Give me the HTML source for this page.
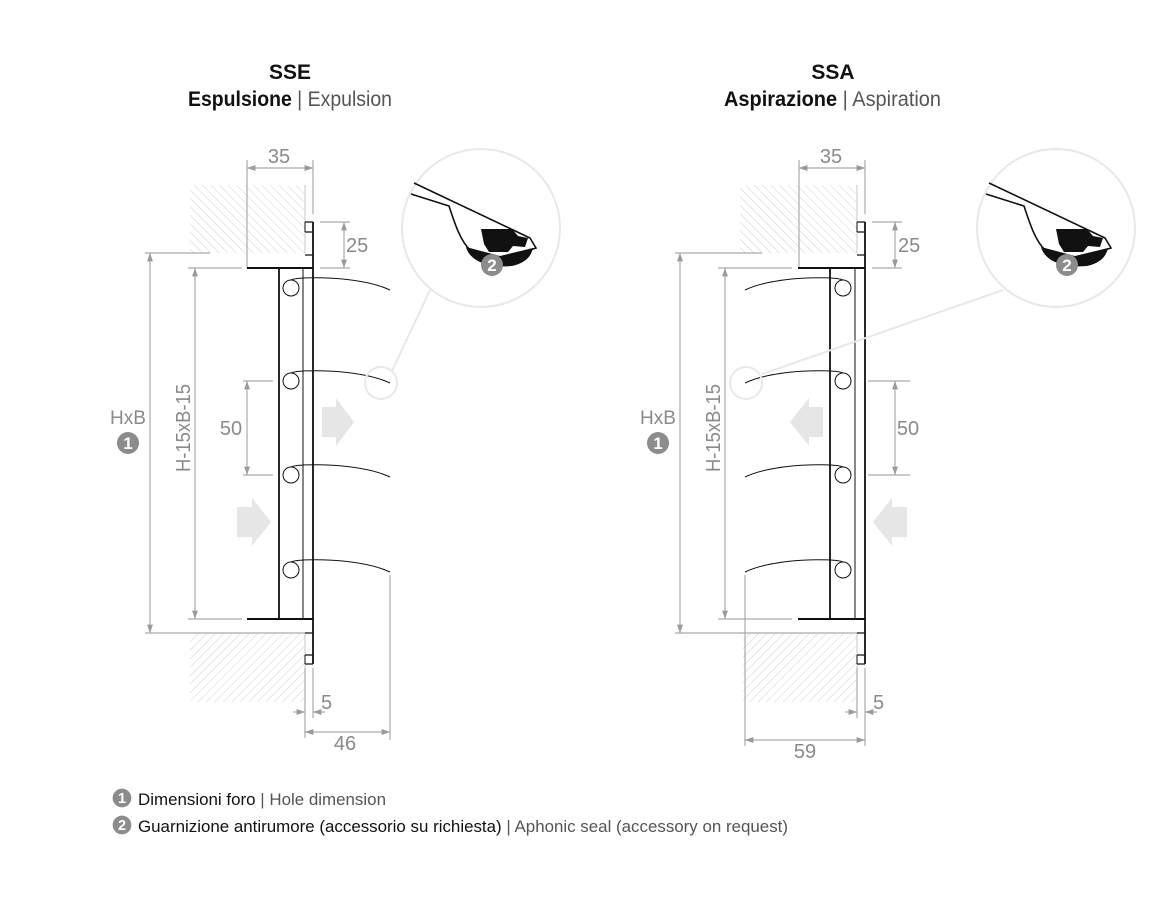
<!DOCTYPE html>
<html><head><meta charset="utf-8"><style>
html,body{margin:0;padding:0;background:#fff;}
svg{display:block;}
text{font-family:"Liberation Sans Narrow","Liberation Sans",sans-serif;}
</style></head><body>
<svg width="1157" height="902" viewBox="0 0 1157 902" xmlns="http://www.w3.org/2000/svg">
<defs>
<pattern id="hA" width="6" height="6" patternUnits="userSpaceOnUse" patternTransform="rotate(-45)"><line x1="0" y1="0" x2="0" y2="6" stroke="#cfcfcf" stroke-width="1"/></pattern>
<pattern id="hB" width="6" height="6" patternUnits="userSpaceOnUse" patternTransform="rotate(45)"><line x1="0" y1="0" x2="0" y2="6" stroke="#cfcfcf" stroke-width="1"/></pattern>
<marker id="ar" viewBox="0 0 10 10" refX="10" refY="5" markerWidth="7" markerHeight="7" orient="auto-start-reverse"><path d="M0,1.5 L10,5 L0,8.5 z" fill="#9a9a9a"/></marker>
<g id="badge1"><circle r="11" fill="#8c8c8c"/><text y="6" text-anchor="middle" font-size="17" font-weight="bold" fill="#fff">1</text></g>
<g id="badge2"><circle r="11" fill="#8c8c8c"/><text y="6" text-anchor="middle" font-size="17" font-weight="bold" fill="#fff">2</text></g>
</defs>

<!-- Titles -->
<text x="290" y="79" text-anchor="middle" font-size="21" font-weight="bold" fill="#111">SSE</text>
<text x="188" y="106" font-size="21" fill="#111" textLength="204" lengthAdjust="spacingAndGlyphs"><tspan font-weight="bold">Espulsione</tspan><tspan fill="#555"> | Expulsion</tspan></text>
<text x="833" y="79" text-anchor="middle" font-size="21" font-weight="bold" fill="#111">SSA</text>
<text x="724" y="106" font-size="21" fill="#111" textLength="217" lengthAdjust="spacingAndGlyphs"><tspan font-weight="bold">Aspirazione</tspan><tspan fill="#555"> | Aspiration</tspan></text>

<!-- ================= LEFT ================= -->
<g>
<rect x="190" y="185" width="115" height="68" fill="url(#hA)"/>
<line x1="305" y1="185" x2="305" y2="253" stroke="#c8c8c8"/>
<rect x="190" y="633" width="115" height="69" fill="url(#hB)"/>
<line x1="305" y1="633" x2="305" y2="702" stroke="#c8c8c8"/>
<g stroke="#aaa" stroke-width="1.2" fill="none">
<line x1="145" y1="253" x2="210" y2="253"/>
<line x1="188" y1="268" x2="242" y2="268"/>
<line x1="188" y1="619" x2="242" y2="619"/>
<line x1="145" y1="633" x2="305" y2="633"/>
<line x1="150" y1="253" x2="150" y2="633" marker-start="url(#ar)" marker-end="url(#ar)"/>
<line x1="195" y1="268" x2="195" y2="619" marker-start="url(#ar)" marker-end="url(#ar)"/>
<line x1="247" y1="160" x2="247" y2="268"/>
<line x1="313" y1="160" x2="313" y2="214"/>
<line x1="247" y1="168" x2="313" y2="168" marker-start="url(#ar)" marker-end="url(#ar)"/>
<line x1="320" y1="222" x2="350" y2="222"/>
<line x1="320" y1="268" x2="350" y2="268"/>
<line x1="344" y1="222" x2="344" y2="268" marker-start="url(#ar)" marker-end="url(#ar)"/>
<line x1="243" y1="381" x2="273" y2="381"/>
<line x1="243" y1="475" x2="273" y2="475"/>
<line x1="247" y1="381" x2="247" y2="475" marker-start="url(#ar)" marker-end="url(#ar)"/>
<line x1="305" y1="668" x2="305" y2="738"/>
<line x1="313" y1="668" x2="313" y2="718"/>
<line x1="293" y1="712" x2="305" y2="712" marker-end="url(#ar)"/>
<line x1="325" y1="712" x2="313" y2="712" marker-end="url(#ar)"/>
<line x1="390" y1="575" x2="390" y2="740"/>
<line x1="305" y1="732" x2="390" y2="732" marker-start="url(#ar)" marker-end="url(#ar)"/>
</g>
<g stroke="#111" fill="none">
<line x1="247" y1="268" x2="313" y2="268" stroke-width="2"/>
<line x1="247" y1="619" x2="313" y2="619" stroke-width="2"/>
<line x1="279" y1="268" x2="279" y2="619" stroke-width="1.8"/>
<line x1="303" y1="268" x2="303" y2="619" stroke-width="1"/>
<line x1="313" y1="222" x2="313" y2="664" stroke-width="1.8"/>
<path d="M305,222 H313 M305,232 H313 M305,255 H313 M305,633 H313 M305,655 H313 M305,664 H313" stroke-width="1.2"/>
<line x1="305" y1="222" x2="305" y2="232" stroke-width="1"/>
<line x1="305" y1="655" x2="305" y2="664" stroke-width="1"/>
<g stroke-width="1">
<circle cx="291" cy="288" r="8"/><circle cx="291" cy="381" r="8"/><circle cx="291" cy="475" r="8"/><circle cx="291" cy="570" r="8"/>
<path d="M291,280 C300,276 360,276 390,290"/>
<path d="M291,373 C300,369 360,369 390,383"/>
<path d="M291,467 C300,463 360,463 390,477"/>
<path d="M291,562 C300,558 360,558 390,572"/>
</g>
</g>
<path d="M322,407 H336 V398 L354,422 L336,446 V437 H322 Z" fill="#e6e6e6"/>
<path d="M237,507 H252 V498 L271,522 L252,546 V537 H237 Z" fill="#e6e6e6"/>
<g fill="#8a8a8a" font-size="20">
<text x="279" y="163" text-anchor="middle">35</text>
<text x="346" y="252">25</text>
<text x="231" y="435" text-anchor="middle">50</text>
<text x="321" y="709">5</text>
<text x="345" y="750" text-anchor="middle">46</text>
<text x="128" y="424" text-anchor="middle" font-size="19">HxB</text>
<text transform="translate(190,428) rotate(-90)" text-anchor="middle" font-size="20" textLength="88" lengthAdjust="spacingAndGlyphs">H-15xB-15</text>
</g>
<use href="#badge1" x="128" y="443"/>
<circle cx="481" cy="228" r="79" fill="none" stroke="#e8e8e8" stroke-width="2"/>
<circle cx="381" cy="383" r="16" fill="none" stroke="#e8e8e8" stroke-width="2"/>
<line x1="392" y1="371" x2="430" y2="290" stroke="#e8e8e8" stroke-width="2"/>
<path d="M466,247 C470,262 490,268 512,266 C525,263 531,257 533,248 L500,256 Z" fill="#111"/>
<path d="M481,229 H512 L518,236 L528,238 L525,247 L513,246 L508,252 L489,252 L484,244 Z" fill="#111"/>
<path d="M414,183 L530,238 L536,248 L516,254 M411,194 L449,206 C455,224 460,240 470,250" fill="none" stroke="#111" stroke-width="1.6"/>
<use href="#badge2" x="492" y="265"/>
</g>

<!-- ================= RIGHT ================= -->
<g>
<rect x="740" y="185" width="117" height="68" fill="url(#hA)"/>
<line x1="857" y1="185" x2="857" y2="253" stroke="#c8c8c8"/>
<rect x="743" y="633" width="114" height="69" fill="url(#hB)"/>
<line x1="857" y1="633" x2="857" y2="702" stroke="#c8c8c8"/>
<g stroke="#aaa" stroke-width="1.2" fill="none">
<line x1="675" y1="253" x2="762" y2="253"/>
<line x1="718" y1="268" x2="792" y2="268"/>
<line x1="718" y1="619" x2="792" y2="619"/>
<line x1="675" y1="633" x2="857" y2="633"/>
<line x1="680" y1="253" x2="680" y2="633" marker-start="url(#ar)" marker-end="url(#ar)"/>
<line x1="725" y1="268" x2="725" y2="619" marker-start="url(#ar)" marker-end="url(#ar)"/>
<line x1="799" y1="160" x2="799" y2="268"/>
<line x1="865" y1="160" x2="865" y2="214"/>
<line x1="799" y1="168" x2="865" y2="168" marker-start="url(#ar)" marker-end="url(#ar)"/>
<line x1="872" y1="222" x2="902" y2="222"/>
<line x1="872" y1="268" x2="902" y2="268"/>
<line x1="895" y1="222" x2="895" y2="268" marker-start="url(#ar)" marker-end="url(#ar)"/>
<line x1="868" y1="381" x2="910" y2="381"/>
<line x1="868" y1="475" x2="910" y2="475"/>
<line x1="895" y1="381" x2="895" y2="475" marker-start="url(#ar)" marker-end="url(#ar)"/>
<line x1="857" y1="668" x2="857" y2="718"/>
<line x1="865" y1="668" x2="865" y2="746"/>
<line x1="845" y1="712" x2="857" y2="712" marker-end="url(#ar)"/>
<line x1="877" y1="712" x2="865" y2="712" marker-end="url(#ar)"/>
<line x1="745" y1="575" x2="745" y2="746"/>
<line x1="745" y1="740" x2="865" y2="740" marker-start="url(#ar)" marker-end="url(#ar)"/>
</g>
<g stroke="#111" fill="none">
<line x1="798" y1="268" x2="865" y2="268" stroke-width="2"/>
<line x1="798" y1="619" x2="865" y2="619" stroke-width="2"/>
<line x1="830" y1="268" x2="830" y2="619" stroke-width="1.8"/>
<line x1="855" y1="268" x2="855" y2="619" stroke-width="1"/>
<line x1="865" y1="222" x2="865" y2="664" stroke-width="1.8"/>
<path d="M857,222 H865 M857,232 H865 M857,255 H865 M857,633 H865 M857,655 H865 M857,664 H865" stroke-width="1.2"/>
<line x1="857" y1="222" x2="857" y2="232" stroke-width="1"/>
<line x1="857" y1="655" x2="857" y2="664" stroke-width="1"/>
<g stroke-width="1">
<circle cx="843" cy="288" r="8"/><circle cx="843" cy="381" r="8"/><circle cx="843" cy="475" r="8"/><circle cx="843" cy="570" r="8"/>
<path d="M843,280 C834,276 775,276 745,290"/>
<path d="M843,373 C834,369 775,369 745,383"/>
<path d="M843,467 C834,463 775,463 745,477"/>
<path d="M843,562 C834,558 775,558 745,572"/>
</g>
</g>
<path d="M823,407 H809 V398 L790,422 L809,446 V437 H823 Z" fill="#e6e6e6"/>
<path d="M907,507 H892 V498 L873,522 L892,546 V537 H907 Z" fill="#e6e6e6"/>
<g fill="#8a8a8a" font-size="20">
<text x="831" y="163" text-anchor="middle">35</text>
<text x="898" y="252">25</text>
<text x="908" y="435" text-anchor="middle">50</text>
<text x="873" y="709">5</text>
<text x="805" y="758" text-anchor="middle">59</text>
<text x="658" y="424" text-anchor="middle" font-size="19">HxB</text>
<text transform="translate(720,428) rotate(-90)" text-anchor="middle" font-size="20" textLength="88" lengthAdjust="spacingAndGlyphs">H-15xB-15</text>
</g>
<use href="#badge1" x="658" y="443"/>
<circle cx="1056" cy="228" r="79" fill="none" stroke="#e8e8e8" stroke-width="2"/>
<circle cx="746" cy="383" r="16" fill="none" stroke="#e8e8e8" stroke-width="2"/>
<line x1="762" y1="374" x2="1003" y2="290" stroke="#e8e8e8" stroke-width="2"/>
<path d="M1041,247 C1045,262 1065,268 1087,266 C1100,263 1106,257 1108,248 L1075,256 Z" fill="#111"/>
<path d="M1056,229 H1087 L1093,236 L1103,238 L1100,247 L1088,246 L1083,252 L1064,252 L1059,244 Z" fill="#111"/>
<path d="M989,183 L1105,238 L1111,248 L1091,254 M986,194 L1024,206 C1030,224 1035,240 1045,250" fill="none" stroke="#111" stroke-width="1.6"/>
<use href="#badge2" x="1067" y="265"/>
</g>

<!-- Legend -->
<use href="#badge1" x="122" y="798" transform="translate(122,798) scale(0.85) translate(-122,-798)"/>
<text x="138" y="805" font-size="17" fill="#111" textLength="248" lengthAdjust="spacingAndGlyphs">Dimensioni foro<tspan fill="#555"> | Hole dimension</tspan></text>
<use href="#badge2" x="122" y="825" transform="translate(122,825) scale(0.85) translate(-122,-825)"/>
<text x="138" y="832" font-size="17" fill="#111" textLength="650" lengthAdjust="spacingAndGlyphs">Guarnizione antirumore (accessorio su richiesta)<tspan fill="#555"> | Aphonic seal (accessory on request)</tspan></text>
</svg>
</body></html>
